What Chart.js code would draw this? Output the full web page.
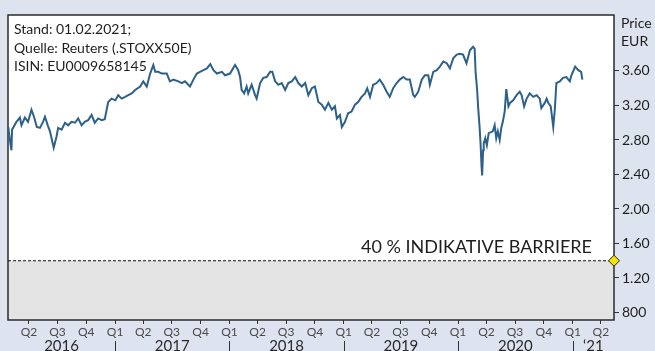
<!DOCTYPE html>
<html>
<head>
<meta charset="utf-8">
<script src="https://cdn.jsdelivr.net/npm/chart.js@4.4.1/dist/chart.umd.min.js"></script>
<style>
  html, body { margin: 0; padding: 0; background: #dde3ef; }
  canvas { display: block; }
</style>
</head>
<body>
<canvas id="chart" width="655" height="351"></canvas>
<script>
// EURO STOXX 50 closes, scaled to EUR per unit
const dates = [
  "2016-01-26", "2016-01-31", "2016-02-05", "2016-02-07", "2016-02-21", "2016-03-03", "2016-03-08", "2016-03-19",
  "2016-03-29", "2016-04-09", "2016-04-17", "2016-04-26", "2016-05-06", "2016-05-16", "2016-05-22", "2016-05-31",
  "2016-06-07", "2016-06-12", "2016-06-19", "2016-06-28", "2016-07-03", "2016-07-14", "2016-07-25", "2016-08-04",
  "2016-08-15", "2016-08-26", "2016-09-05", "2016-09-16", "2016-09-26", "2016-10-07", "2016-10-18", "2016-10-28",
  "2016-11-08", "2016-11-19", "2016-11-29", "2016-12-05", "2016-12-10", "2016-12-21", "2017-01-02", "2017-01-11",
  "2017-01-22", "2017-02-02", "2017-02-12", "2017-02-23", "2017-03-06", "2017-03-22", "2017-04-01", "2017-04-12",
  "2017-04-23", "2017-05-03", "2017-05-09", "2017-05-19", "2017-05-30", "2017-06-15", "2017-06-25", "2017-07-06",
  "2017-07-22", "2017-08-02", "2017-08-12", "2017-08-28", "2017-09-08", "2017-09-19", "2017-09-29", "2017-10-10",
  "2017-10-21", "2017-11-01", "2017-11-11", "2017-11-22", "2017-12-08", "2017-12-18", "2018-01-03", "2018-01-19",
  "2018-01-29", "2018-02-04", "2018-02-09", "2018-02-17", "2018-02-25", "2018-03-02", "2018-03-13", "2018-03-24",
  "2018-03-29", "2018-04-09", "2018-04-19", "2018-04-30", "2018-05-11", "2018-05-18", "2018-05-27", "2018-06-06",
  "2018-06-17", "2018-06-28", "2018-07-08", "2018-07-19", "2018-07-30", "2018-08-09", "2018-08-20", "2018-08-31",
  "2018-09-10", "2018-09-21", "2018-10-01", "2018-10-12", "2018-10-23", "2018-11-02", "2018-11-13", "2018-11-24",
  "2018-12-04", "2018-12-10", "2018-12-20", "2018-12-26", "2019-01-05", "2019-01-15", "2019-01-26", "2019-02-06",
  "2019-02-16", "2019-02-27", "2019-03-10", "2019-03-17", "2019-03-26", "2019-04-05", "2019-04-16", "2019-04-26",
  "2019-05-07", "2019-05-18", "2019-05-28", "2019-06-08", "2019-06-19", "2019-06-29", "2019-07-10", "2019-07-21",
  "2019-07-31", "2019-08-11", "2019-08-16", "2019-08-27", "2019-09-07", "2019-09-17", "2019-09-28", "2019-10-03",
  "2019-10-14", "2019-10-25", "2019-11-04", "2019-11-15", "2019-11-26", "2019-12-06", "2019-12-17", "2019-12-28",
  "2020-01-07", "2020-01-17", "2020-01-28", "2020-02-08", "2020-02-18", "2020-02-23", "2020-02-26", "2020-03-02",
  "2020-03-05", "2020-03-10", "2020-03-13", "2020-03-16", "2020-03-18", "2020-03-21", "2020-03-23", "2020-03-28",
  "2020-04-02", "2020-04-08", "2020-04-21", "2020-04-27", "2020-05-02", "2020-05-07", "2020-05-13", "2020-05-18",
  "2020-05-23", "2020-05-29", "2020-06-03", "2020-06-10", "2020-06-15", "2020-06-25", "2020-07-06", "2020-07-16",
  "2020-07-22", "2020-07-30", "2020-08-07", "2020-08-17", "2020-08-28", "2020-09-08", "2020-09-18", "2020-09-23",
  "2020-10-04", "2020-10-10", "2020-10-15", "2020-10-23", "2020-10-31", "2020-11-05", "2020-11-10", "2020-11-21",
  "2020-12-01", "2020-12-12", "2020-12-23", "2020-12-28", "2021-01-09", "2021-01-19", "2021-01-28", "2021-02-01"
];
const prices = [
  2.95, 2.80, 2.68, 2.92, 3.01, 3.06, 2.97, 3.06,
  3.01, 3.15, 3.07, 2.95, 2.94, 3.01, 3.07, 2.97,
  2.90, 2.82, 2.71, 2.84, 2.94, 2.92, 3.00, 2.97,
  3.01, 3.00, 3.05, 2.97, 3.01, 3.03, 3.09, 3.00,
  3.05, 3.03, 3.04, 3.15, 3.24, 3.28, 3.26, 3.32,
  3.28, 3.30, 3.32, 3.34, 3.38, 3.42, 3.48, 3.42,
  3.57, 3.67, 3.59, 3.59, 3.57, 3.57, 3.48, 3.50,
  3.48, 3.46, 3.48, 3.42, 3.50, 3.57, 3.59, 3.61,
  3.63, 3.68, 3.61, 3.57, 3.59, 3.55, 3.57, 3.67,
  3.61, 3.53, 3.38, 3.34, 3.42, 3.34, 3.44, 3.32,
  3.28, 3.46, 3.52, 3.53, 3.59, 3.59, 3.48, 3.44,
  3.46, 3.38, 3.46, 3.48, 3.53, 3.46, 3.42, 3.46,
  3.32, 3.40, 3.42, 3.24, 3.21, 3.15, 3.23, 3.15,
  3.19, 3.05, 3.09, 2.95, 3.01, 3.11, 3.13, 3.21,
  3.24, 3.30, 3.34, 3.40, 3.30, 3.44, 3.46, 3.50,
  3.44, 3.36, 3.30, 3.40, 3.46, 3.50, 3.53, 3.50,
  3.50, 3.32, 3.30, 3.36, 3.50, 3.55, 3.55, 3.44,
  3.59, 3.61, 3.65, 3.71, 3.69, 3.63, 3.75, 3.79,
  3.80, 3.79, 3.69, 3.84, 3.88, 3.86, 3.59, 3.38,
  3.19, 2.94, 2.75, 2.50, 2.39, 2.68, 2.76, 2.82,
  2.74, 2.88, 2.90, 2.97, 2.82, 2.90, 2.80, 2.94,
  3.01, 3.13, 3.39, 3.19, 3.23, 3.26, 3.32, 3.36,
  3.32, 3.19, 3.28, 3.34, 3.30, 3.32, 3.28, 3.17,
  3.23, 3.28, 3.23, 3.19, 2.95, 3.15, 3.46, 3.48,
  3.52, 3.53, 3.48, 3.55, 3.65, 3.61, 3.59, 3.50
];

const barrierLevel = 1.40;
const barrierText = "40 % INDIKATIVE BARRIERE";

const yTicks = [0.8, 1.2, 1.6, 2.0, 2.4, 2.8, 3.2, 3.6];
const yTickLabels = ["800", "1.20", "1.60", "2.00", "2.40", "2.80", "3.20", "3.60"];

const quarterDates = [
  "2016-04-01", "2016-07-01", "2016-10-01",
  "2017-01-01", "2017-04-01", "2017-07-01", "2017-10-01",
  "2018-01-01", "2018-04-01", "2018-07-01", "2018-10-01",
  "2019-01-01", "2019-04-01", "2019-07-01", "2019-10-01",
  "2020-01-01", "2020-04-01", "2020-07-01", "2020-10-01",
  "2021-01-01", "2021-04-01"
];
const quarterLabels = [
  "Q2", "Q3", "Q4",
  "Q1", "Q2", "Q3", "Q4",
  "Q1", "Q2", "Q3", "Q4",
  "Q1", "Q2", "Q3", "Q4",
  "Q1", "Q2", "Q3", "Q4",
  "Q1", "Q2"
];
const yearStarts = ["2016-01-01", "2017-01-01", "2018-01-01", "2019-01-01", "2020-01-01", "2021-01-01", "2022-01-01"];
const yearLabels = ["2016", "2017", "2018", "2019", "2020", "\u201821"];

const infoLines = ["Stand: 01.02.2021;", "Quelle: Reuters (.STOXX50E)", "ISIN: EU0009658145"];

const xMin = Date.parse("2016-01-25");
const xMax = Date.parse("2021-05-13");
const quarterTimes = quarterDates.map(d => Date.parse(d));

const FONT = "Lato, 'DejaVu Sans', sans-serif";
const LINE_COLOR = "#2e6189";

const pricePoints = dates.map((d, i) => ({ x: Date.parse(d), y: prices[i] }));
const barrierPoints = [{ x: xMin, y: barrierLevel }, { x: xMax, y: barrierLevel }];

// white plot background
const plotBackground = {
  id: "plotBackground",
  beforeDraw(chart) {
    const { ctx, chartArea: a } = chart;
    ctx.save();
    ctx.fillStyle = "#ffffff";
    ctx.fillRect(a.left, a.top, a.right - a.left, a.bottom - a.top);
    ctx.restore();
  }
};

// frame goes on top of the grey barrier fill, under the dashed line and marker
const plotFrame = {
  id: "plotFrame",
  beforeDatasetDraw(chart, args) {
    if (args.index !== 1) return;
    const { ctx, chartArea: a } = chart;
    ctx.save();
    ctx.strokeStyle = "#2b2b2b";
    ctx.lineWidth = 1.5;
    ctx.strokeRect(a.left, a.top, a.right - a.left, a.bottom - a.top);
    ctx.restore();
  }
};

const textLayer = {
  id: "textLayer",
  afterDraw(chart) {
    const { ctx, chartArea: a } = chart;
    const xs = chart.scales.x;
    const ys = chart.scales.y;
    ctx.save();
    ctx.fillStyle = "#1e1e1e";
    ctx.textBaseline = "alphabetic";

    ctx.font = "14px " + FONT;
    ctx.textAlign = "left";
    infoLines.forEach((t, i) => ctx.fillText(t, a.left + 6, 34 + i * 18.5));

    ctx.fillText("Price", a.right + 7, 28);
    ctx.fillText("EUR", a.right + 7, 46);

    ctx.font = "18px " + FONT;
    ctx.textAlign = "right";
    ctx.fillText(barrierText, a.right - 22, ys.getPixelForValue(barrierLevel) - 8);

    // year row with separators
    ctx.font = "15px " + FONT;
    ctx.textAlign = "center";
    ctx.fillStyle = "#2a2a2a";
    ctx.strokeStyle = "#333";
    ctx.lineWidth = 1;
    for (let i = 0; i < yearLabels.length; i++) {
      const x0 = xs.getPixelForValue(Date.parse(yearStarts[i]));
      const x1 = xs.getPixelForValue(Date.parse(yearStarts[i + 1]));
      const l = Math.max(x0, a.left), r = Math.min(x1, a.right);
      ctx.fillText(yearLabels[i], (l + r) / 2, 351);
      if (x0 > a.left) {
        const px = Math.round(x0) + 0.5;
        ctx.beginPath();
        ctx.moveTo(px, 341);
        ctx.lineTo(px, 351);
        ctx.stroke();
      }
    }
    ctx.restore();
  }
};

new Chart(document.getElementById("chart"), {
  type: "line",
  data: {
    datasets: [
      {
        data: pricePoints,
        borderColor: LINE_COLOR,
        borderWidth: 2,
        pointRadius: 0,
        tension: 0,
        fill: false
      },
      {
        data: barrierPoints,
        borderColor: "#111",
        borderWidth: 1,
        borderDash: [3, 2],
        fill: "start",
        backgroundColor: "#e4e4e4",
        pointRadius: [0, 5.5],
        pointStyle: "rectRot",
        pointBackgroundColor: "#f5e400",
        pointBorderColor: "#222",
        pointBorderWidth: 1,
        clip: false
      }
    ]
  },
  options: {
    responsive: false,
    animation: false,
    devicePixelRatio: 1,
    layout: { padding: { left: 8, top: 15, right: 0, bottom: 0 } },
    plugins: {
      legend: { display: false },
      tooltip: { enabled: false }
    },
    scales: {
      x: {
        type: "linear",
        min: xMin,
        max: xMax,
        afterBuildTicks: axis => { axis.ticks = quarterTimes.map(v => ({ value: v })); },
        afterFit: axis => { axis.height = 31; },
        grid: { drawOnChartArea: false, tickLength: 4, color: "#333" },
        border: { display: false },
        ticks: {
          autoSkip: false,
          maxRotation: 0,
          padding: 1,
          color: "#4a4a4a",
          font: { family: FONT, size: 12 },
          callback: v => quarterLabels[quarterTimes.indexOf(v)]
        }
      },
      y: {
        position: "right",
        min: 0.713,
        max: 4.249,
        afterBuildTicks: axis => { axis.ticks = yTicks.map(v => ({ value: v })); },
        afterFit: axis => { axis.width = 41; },
        grid: { drawOnChartArea: false, tickLength: 5, color: "#333" },
        border: { display: false },
        ticks: {
          padding: 3,
          color: "#1e1e1e",
          font: { family: FONT, size: 14 },
          callback: v => yTickLabels[yTicks.indexOf(v)]
        }
      }
    }
  },
  plugins: [plotBackground, plotFrame, textLayer]
});
</script>
</body>
</html>
